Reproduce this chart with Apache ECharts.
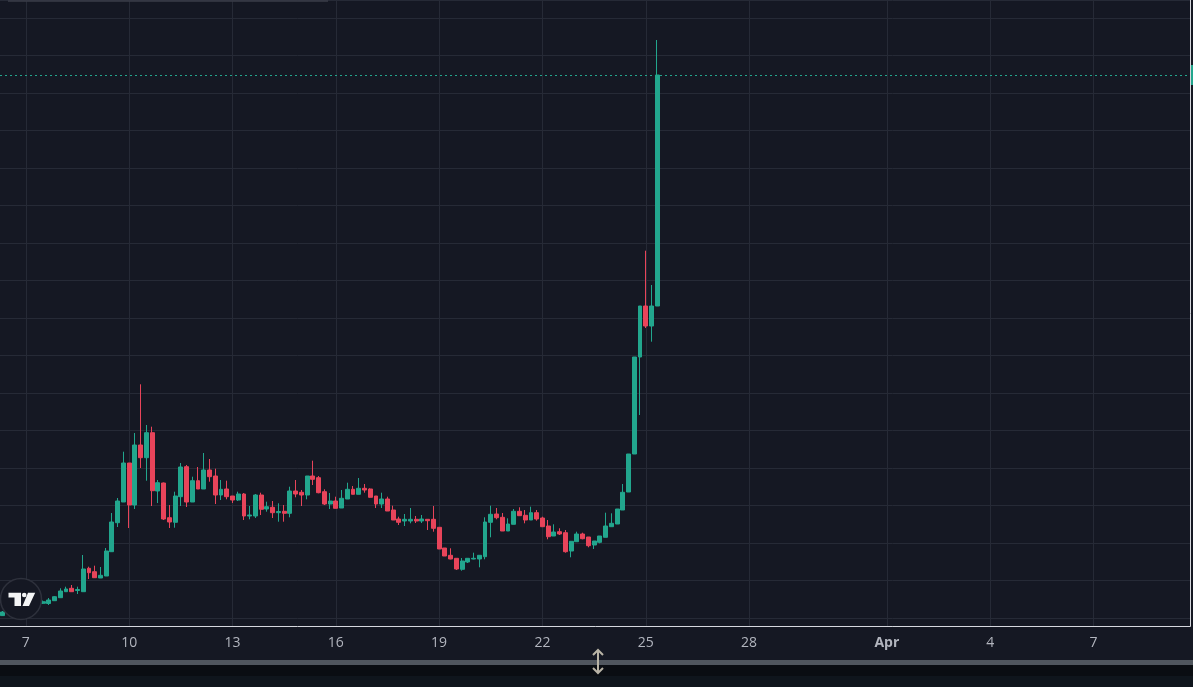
<!DOCTYPE html>
<html>
<head>
<meta charset="utf-8">
<title>Candles</title>
<style>html,body{margin:0;padding:0;background:#151823}#chart{width:1193px;height:687px}</style>
<script src="https://cdn.jsdelivr.net/npm/echarts@6/dist/echarts.min.js"></script>
</head>
<body>
<div id="chart"></div>
<script>
// 4h candles, 6 per day. the scale has no labels in the picture so values are in plain chart units
// slots 1-6 are hidden behind the logo
const opens = [2.4,null,null,null,null,null,null,14.7,14.5,17.3,
  20.3,26.3,29.7,27.5,26.3,49.7,46.3,40,42,66.3,
  95.3,116,155,113,173,160.3,185.3,127,135,100.3,
  95.7,121.3,151.3,116,137.3,129,148,142,123,129,
  122,118,124,102,102,123,109,110.7,105.3,106.7,
  104.7,127,125.7,123,142,140.3,126.3,114,117,110,
  119,128.7,123.7,129.7,129,122,114,119,108,99,
  97,97,98.7,97,98.7,98.7,90.7,70,62.7,59.7,
  48.7,56,59,59,61.3,95.7,104,100.7,87,93.7,
  106.7,102.7,98,105.3,100,92,82,86.3,85.3,67,
  76.3,84,81,73,75.7,80.7,91.3,94,108,126,
  164,261,312,292,312];
const closes = [6,null,null,null,null,null,null,16.3,18,21.3,
  27,29,26.3,28.5,49,45.3,40.3,42.7,67,96,
  117,155,113,173,160.3,185.3,127.3,135.3,99,96,
  122,151,116,137.3,129,148,141.3,123,128.7,121.3,
  118,124,102,103,123,108.7,111.3,105.3,106.5,104.7,
  127,124,123,142,138.7,125.3,114,117,109.7,119.7,
  128.7,123.7,129.7,128,120.7,114,119,107,98,95.7,
  98.7,98.7,97,99,97.3,89.7,69,62,59,49,
  57,59.7,59.7,62.7,96,103.7,100.3,87,94,106.7,
  102.3,98,105.3,99,91.3,81.3,86,84,66.3,76.7,
  84,79.3,72.3,77,82,92,94.7,109,125.7,164,
  261,312,292,312,543];
const lows = [2,null,null,null,null,null,null,14,13,17,
  20,26,26.3,24,26.3,39,40,40,42,66,
  91,116,90,109,150,137.3,112,115,98,90,
  90.3,112,111,116,129,129,136.3,114,118,118.7,
  115,117,98,98.7,100,103,106.3,100,96.3,96.3,
  100.7,120.7,112,118.7,133,124.7,113,109,109.7,110,
  119,123.7,123.7,125.3,120.3,110,110,107,98,93,
  92,94.7,95,95,88,86.3,69,62,58.7,48,
  47.3,55,58.7,50.7,58.7,80.7,98.7,87,87,93.7,
  102.3,94.7,98,97.3,91.3,78.7,82,83,65.3,60.7,
  76.3,78.7,70.7,69,74.7,80.7,91.3,94,108,126,
  164,203,290,276.3,312];
const highs = [7,null,null,null,null,null,null,17.5,20,22,
  29.7,31.3,33,31.3,63,51.3,52.3,51,70,105,
  120,166.3,155,185,233.7,193,191.3,138,135.5,113,
  126.3,155,153,141.3,151,165,159,149.3,138,137.3,
  122,126.3,125,112,124,125.3,116.3,117,114.7,113,
  131.3,138,128,142,157.3,142,128.7,125,121.3,128,
  135.3,132,140,134,129.7,122,125.3,121.3,112.3,101.3,
  104,110,102,103,98.7,112,90.7,70,69.7,59.7,
  60,59.7,65.3,62.7,100.7,112.3,110,105,99.7,109,
  110.7,108,111.3,108,101.3,98,93.7,89.7,88,76.7,
  86.3,85.3,81,77,82,105.3,104.7,109,134,164,
  261,312,367.3,333,578];

const slotCount = 207;
const tickSlots = [4,22,40,58,76,94,112,130,154,172,190];
const tickLabels = ['7','10','13','16','19','22','25','28','Apr','4','7'];
const gridStep = 37.55;
const lastPrice = closes[closes.length - 1];

const UP = '#22a68d', DOWN = '#e8445a', BG = '#151823', GRID = '#262a36';

let categories = [];
for (let i = 0; i < slotCount; i++) categories.push(String(i));

let candleData = opens.map((o, i) => [o, closes[i], lows[i], highs[i]]);

let chart = echarts.init(document.getElementById('chart'), null, {renderer: 'canvas'});
chart.setOption({
  animation: false,
  backgroundColor: BG,
  grid: [
    {left: 0, top: 0, width: 1188.2, height: 626},
    {left: 0, top: -1, width: 1190, height: 619}
  ],
  xAxis: [
    {
      type: 'category',
      gridIndex: 0,
      data: categories,
      axisLine: {show: false},
      axisTick: {show: false},
      axisLabel: {
        interval: idx => tickSlots.includes(idx),
        formatter: (v, idx) => {
          let t = tickLabels[tickSlots.indexOf(idx)];
          return t === 'Apr' ? '{b|' + t + '}' : t;
        },
        color: '#b2b5be',
        fontFamily: 'Open Sans',
        fontSize: 14,
        margin: 10,
        rich: {b: {color: '#b2b5be', fontFamily: 'Open Sans', fontSize: 14, fontWeight: 'bold'}}
      },
      splitLine: {
        show: true,
        alignWithLabel: true,
        interval: idx => tickSlots.includes(idx),
        lineStyle: {color: GRID, width: 1}
      }
    },
    {
      type: 'category',
      gridIndex: 1,
      data: categories,
      show: false
    }
  ],
  yAxis: [
    {type: 'value', gridIndex: 0, min: -8, max: 618, show: false, splitLine: {show: false}},
    {
      type: 'value',
      gridIndex: 1,
      min: 0,
      max: 619,
      interval: gridStep,
      axisLine: {show: false},
      axisTick: {show: false},
      axisLabel: {show: false},
      splitLine: {show: true, lineStyle: {color: GRID, width: 1}}
    }
  ],
  series: [{
    type: 'candlestick',
    xAxisIndex: 0,
    yAxisIndex: 0,
    barWidth: 4.4,
    data: candleData,
    itemStyle: {color: UP, color0: DOWN, borderColor: UP, borderColor0: DOWN, borderWidth: 1},
    markLine: {
      silent: true,
      symbol: 'none',
      label: {show: false},
      emphasis: {disabled: true},
      lineStyle: {color: UP, type: [2, 3], width: 1, opacity: 1},
      data: [{yAxis: lastPrice, lineStyle: {color: UP}}]
    }
  }],
  graphic: [
    // axis frame
    {type: 'polyline', silent: true, z: 20, shape: {points: [[0, 626.5], [1190.5, 626.5], [1190.5, 0]]}, style: {stroke: '#d6d8de', lineWidth: 1, fill: null}},
    // remains of the panel edge at top left
    {type: 'line', silent: true, z: 20, shape: {x1: 8, y1: 1, x2: 328, y2: 1}, style: {stroke: '#3a3d49', lineWidth: 1.5}},
    // price tag, almost cut off by the window edge
    {type: 'rect', silent: true, z: 20, shape: {x: 1191, y: 65, width: 2, height: 20}, style: {fill: UP}},
    // bottom strips
    {type: 'rect', silent: true, z: 20, shape: {x: 0, y: 660, width: 1193, height: 5}, style: {fill: '#50565e'}},
    {type: 'rect', silent: true, z: 20, shape: {x: 0, y: 665, width: 1193, height: 11}, style: {fill: '#0a0d12'}},
    {type: 'rect', silent: true, z: 20, shape: {x: 0, y: 676, width: 1193, height: 11}, style: {fill: '#0f151c'}},
    // resize cursor
    {type: 'line', silent: true, z: 21, shape: {x1: 598, y1: 650, x2: 598, y2: 673}, style: {stroke: '#b9b4a6', lineWidth: 2}},
    {type: 'polyline', silent: true, z: 21, shape: {points: [[593, 655], [598, 650], [603, 655]]}, style: {stroke: '#b9b4a6', lineWidth: 2, fill: null}},
    {type: 'polyline', silent: true, z: 21, shape: {points: [[593, 668], [598, 673], [603, 668]]}, style: {stroke: '#b9b4a6', lineWidth: 2, fill: null}},
    // logo
    {type: 'circle', silent: true, z: 22, shape: {cx: 21, cy: 599, r: 20.5}, style: {fill: BG, stroke: '#2e313c', lineWidth: 1.5}},
    {type: 'polygon', silent: true, z: 23, shape: {points: [[8.5, 592.7], [21, 592.7], [21, 606], [14.5, 606], [14.5, 597.5], [8.5, 597.5]]}, style: {fill: '#f4f5f6'}},
    {type: 'circle', silent: true, z: 23, shape: {cx: 24.2, cy: 595, r: 2.3}, style: {fill: '#f4f5f6'}},
    {type: 'polygon', silent: true, z: 23, shape: {points: [[28, 592.7], [35.2, 592.7], [29, 606], [22.5, 606]]}, style: {fill: '#f4f5f6'}}
  ]
});
</script>
</body>
</html>
